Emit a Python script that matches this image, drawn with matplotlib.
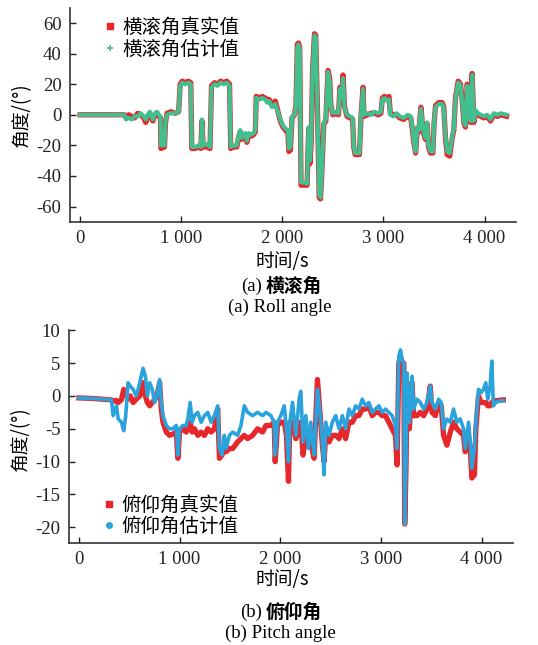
import matplotlib
matplotlib.use("Agg")
import matplotlib.pyplot as plt
from matplotlib.lines import Line2D

plt.rcParams['font.family'] = ['Liberation Serif', 'Noto Sans CJK SC']
plt.rcParams['axes.unicode_minus'] = False

# ---- roll angle (a) ----
roll_t = [0, 440, 455, 480, 510, 540, 570, 600, 630, 650, 670, 690, 705, 720, 740, 760, 780, 795,
          800, 835, 845, 860, 900, 940, 975, 990, 1010, 1040, 1070, 1095, 1105, 1140, 1170, 1195,
          1205, 1218, 1250, 1285, 1300, 1330, 1360, 1390, 1420, 1450, 1478, 1490, 1520, 1550,
          1567, 1584, 1600, 1633, 1650, 1666, 1690, 1716, 1733, 1742, 1775, 1800, 1830, 1850,
          1870, 1898, 1930, 1950, 1980, 2006, 2030, 2055, 2065, 2080, 2096, 2120, 2135, 2148,
          2160, 2172, 2185, 2245, 2255, 2262, 2272, 2285, 2300, 2318, 2330, 2345, 2365, 2378,
          2395, 2410, 2430, 2452, 2468, 2480, 2500, 2530, 2555, 2570, 2588, 2600, 2615, 2640,
          2670, 2695, 2706, 2720, 2745, 2762, 2778, 2798, 2808, 2840, 2880, 2910, 2950, 2975,
          2990, 3010, 3040, 3055, 3068, 3100, 3130, 3160, 3200, 3240, 3270, 3285, 3300, 3318,
          3335, 3350, 3370, 3392, 3415, 3432, 3445, 3465, 3488, 3500, 3515, 3547, 3580, 3597,
          3613, 3630, 3655, 3680, 3696, 3712, 3739, 3762, 3778, 3795, 3811, 3828, 3844, 3861,
          3877, 3894, 3910, 3935, 3960, 3993, 4026, 4059, 4092, 4130, 4158, 4217]
roll_est = [0, 0, -3, -2, -3, -1, -1, 1, -1, -3, 0, 2, -1, -3, 1, 2, 0, -1,
            -20, -20, -4, 0, 1, 1, 2, 19, 21, 20, 21, 20, -21, -21, -20, -21,
            -3, -20, -19, -21, 18, 20, 19, 21, 20, 21, 19, -21, -20, -20,
            -14, -10, -15, -12, -17, -12, -13, -12, -10, 11, 10, 11, 10, 8,
            9, 5, 7, 3, -3, -7, -9, -10, -22, -21, -1, 0, 5, 44,
            46, 43, -44, -45, -20, -8, -30, -18, 30, 52, 51, 10, -52, -54,
            -30, -5, -3, 28, 22, 5, 1, 2, 1, 17, 11, 24, 4, 0,
            -1, -2, -20, -25, -25, -25, 0, 17, 0, 1, 0, 2, 1, 2,
            10, 11, 9, 10, 0, -1, 1, -1, -2, 0, -1, -8, -17, -24,
            -8, -10, 4, -10, -15, -5, -20, -24, -24, -5, 5, 7, 7, 4,
            -14, -24, -25, -14, -9, 10, 21, 19, 9, -4, -7, 19, 10, -4,
            26, -4, 3, 1, 0, -1, 0, -3, 1, 0, 1, 0]
roll_true = [0, 0, -2, 0, -1, -2, 1, 0, -2, -5, -1, 1, -2, -4, 0, 1, -1, -2,
             -22, -21, -5, 1, 2, 1, 2, 20, 22, 21, 22, 21, -22, -22, -21, -22,
             -4, -21, -21, -22, 19, 21, 20, 22, 21, 22, 20, -22, -21, -21,
             -15, -11, -16, -13, -18, -13, -14, -13, -11, 12, 11, 12, 11, 10,
             10, 6, 9, 4, -4, -8, -10, -12, -24, -23, -2, 0, 6, 46,
             47, 44, -46, -46, -21, -9, -32, -19, 31, 53, 52, 11, -54, -55,
             -31, -6, -4, 29, 24, 6, 0, 1, 0, 18, 12, 26, 5, -1,
             -2, -3, -21, -26, -26, -26, -1, 18, -1, 0, 1, 1, 0, 1,
             11, 12, 11, 12, 1, 0, 0, -2, -3, -1, -2, -9, -18, -25,
             -9, -11, 5, -11, -16, -6, -21, -25, -25, -6, 6, 8, 8, 5,
             -15, -26, -27, -15, -10, 11, 22, 20, 10, -5, -8, 20, 11, -5,
             27, -5, 2, 0, -1, -2, -1, -4, 0, -1, 0, -1]

# ---- pitch angle (b) ----
pitch_t = [0, 150, 323, 340, 373, 390, 422, 445, 465, 488, 511, 538, 570, 604, 637, 660, 680,
           703, 729, 752, 775, 802, 818, 835, 868, 900, 934, 967, 983, 1000, 1033, 1066, 1082,
           1105, 1125, 1148, 1181, 1214, 1247, 1280, 1313, 1346, 1379, 1396, 1422, 1445, 1462,
           1495, 1528, 1577, 1610, 1643, 1676, 1726, 1775, 1825, 1858, 1907, 1940, 1950, 1973,
           2006, 2040, 2062, 2082, 2096, 2122, 2155, 2188, 2204, 2227, 2254, 2280, 2303, 2336,
           2370, 2392, 2419, 2435, 2452, 2485, 2518, 2551, 2584, 2617, 2650, 2683, 2716, 2749,
           2782, 2815, 2848, 2881, 2914, 2947, 2980, 3013, 3046, 3079, 3112, 3145, 3161, 3178,
           3195, 3211, 3228, 3237, 3250, 3260, 3283, 3310, 3326, 3359, 3392, 3425, 3458, 3491,
           3508, 3541, 3574, 3600, 3623, 3656, 3690, 3722, 3755, 3788, 3821, 3838, 3871, 3888,
           3904, 3930, 3944, 3970, 3996, 4020, 4042, 4062, 4085, 4102, 4118, 4141, 4168, 4200,
           4217]
pitch_est = [-0.3, -0.4, -0.6, -3, -1.5, -3.5, -4, -5.3, -3, 2, 1.5, 1, 0, 2, 4.2, 3, 0,
             2, 1, -1, 0, 2.5, -1, -3, -4.5, -5, -5, -4.5, -9, -5, -4.5, -4.5, -3.5,
             -1, -4, -3, -2.5, -4, -3, -2.5, -4, -3, -1.5, -8, -9, -6, -8,
             -6, -5.5, -6, -4.5, -1.5, -2.5, -3, -2.5, -3, -2.5, -3, -4, -9, -4,
             -3, -1.5, -5, -10, -4, -1, -6, -0.5, 0.7, -7, -3, -8, -4, -9,
             1, -2, -7, -12, -4, -6, -4, -3, -5, -3, -5, -2, -3, -1.5,
             -2, -0.5, -1.5, -1, -2.5, -2, -1.5, -2.5, -2, -2.5, -3, -4.5, -8, 6,
             7, 5.5, 5, -19.5, -10, 3.5, -4, 3, -2, -0.5, -1, -2, -1, 1.5,
             -1, -2, -0.5, -1, -5, -3.5, -4, -2, -4, -3.5, -5, -8, -4, -7,
             -11, -8, -4, 1, 0.5, 1, 2, -0.5, 1.5, 5.3, -1.5, -1, -0.8, -0.7,
             -0.7]
pitch_true = [-0.3, -0.4, -0.6, -0.8, -0.7, -1, -0.6, 1, 0.5, -0.5, 0, -1, -0.5, 0, 2, 0, -1,
              -1.5, -1, -0.5, 0, 2, -2, -4, -5.5, -6, -5.8, -5.5, -9.5, -5.5, -5, -5.5, -5,
              -4, -5.5, -5, -6, -5.5, -6, -5, -5.5, -5, -2, -9.5, -9, -8, -8.5,
              -8, -8, -7, -6.5, -6, -6.5, -6, -5, -5.5, -4.5, -4.5, -4, -10, -4.5,
              -4, -4, -6, -13, -4, -4, -6.5, -5, -4, -9, -6, -7, -7, -9.5,
              2.5, -2, -7.5, -10, -6, -7, -6, -6, -6.5, -5, -6.5, -4, -4, -3,
              -3, -2, -2, -1.5, -3, -2.5, -2.5, -3, -3, -4, -5, -6, -10.5, 5,
              6, 5, 5, -19.5, -11, 2, -5, 2, -3, -3, -2.5, -3, -2, 1.5,
              -2.5, -3, -1, -1.5, -6, -7.5, -5.5, -4, -5, -5.5, -6, -8.5, -6, -8,
              -12.5, -12, -5, 0, -1, -1, -1, -1.5, -1.5, -1, -0.8, -0.7, -0.7, -0.6,
              -0.6]

x_ticks = [0, 1000, 2000, 3000, 4000]
x_ticklabels = ['0', '1 000', '2 000', '3 000', '4 000']
roll_yticks = [-60, -40, -20, 0, 20, 40, 60]
pitch_yticks = [-20, -15, -10, -5, 0, 5, 10]

RED = '#e8272b'
GREEN = '#42bf8e'
BLUE = '#2aa3dc'
CJK = ['Noto Sans CJK SC', 'Liberation Serif']


def style_axes(ax, yticks):
    for s in ['top', 'right']:
        ax.spines[s].set_visible(False)
    for s in ['left', 'bottom']:
        ax.spines[s].set_color('#333333')
        ax.spines[s].set_linewidth(1.2)
    ax.set_xticks(x_ticks)
    ax.set_xticklabels(x_ticklabels)
    ax.set_yticks(yticks)
    ax.set_yticklabels([str(v) for v in yticks])
    ax.tick_params(direction='in', length=4.5, width=1, colors='#222222',
                   labelsize=13.5, pad=6)
    ax.set_xlim(-100, 4310)


fig = plt.figure(figsize=(5.38, 6.45), dpi=100)

# top panel
ax1 = fig.add_axes([0.130, 0.656, 0.829, 0.332])
ax1.plot(roll_t, roll_true, color=RED, lw=3.8)
ax1.plot(roll_t, roll_est, color=GREEN, lw=3.0)
ax1.set_ylim(-70, 70)
style_axes(ax1, roll_yticks)
h1 = [Line2D([], [], ls='', marker='s', ms=4.5, color=RED),
      Line2D([], [], ls='', marker='+', ms=4, mew=1.2, color=GREEN)]
ax1.legend(h1, ['横滚角真实值', '横滚角估计值'], loc='upper left',
           bbox_to_anchor=(0.038, 1.04), frameon=False, handlelength=0.6,
           handletextpad=0.35, labelspacing=0.05,
           prop={'family': CJK, 'size': 14, 'weight': 'medium'})
ax1.set_ylabel('角度/(°)', family=CJK, fontsize=13.5)
ax1.yaxis.set_label_coords(-0.085, 0.5)

# bottom panel
ax2 = fig.add_axes([0.128, 0.158, 0.825, 0.330])
ax2.plot(pitch_t, pitch_true, color=RED, lw=3.8)
ax2.plot(pitch_t, pitch_est, color=BLUE, lw=2.6)
ax2.set_ylim(-22.4, 10)
style_axes(ax2, pitch_yticks)
h2 = [Line2D([], [], ls='', marker='s', ms=4.5, color=RED),
      Line2D([], [], ls='', marker='o', ms=4, color=BLUE)]
ax2.legend(h2, ['俯仰角真实值', '俯仰角估计值'], loc='lower left',
           bbox_to_anchor=(0.037, -0.055), frameon=False, handlelength=0.6,
           handletextpad=0.35, labelspacing=0.05,
           prop={'family': CJK, 'size': 14, 'weight': 'medium'})
ax2.set_ylabel('角度/(°)', family=CJK, fontsize=13.5)
ax2.yaxis.set_label_coords(-0.085, 0.49)

# axis titles and captions
W, H = 538.0, 645.0
def ftext(px, py, s, ha='center', **kw):
    fig.text(px / W, 1 - py / H, s, ha=ha, va='center', **kw)

ftext(282, 262, '时间/s', family=CJK, fontsize=13.5, weight='medium')
ftext(262, 286, '(a)', ha='right', family='Liberation Serif', fontsize=13.5)
ftext(266, 286, '横滚角', ha='left', family=CJK, fontsize=13.5, weight='bold')
ftext(280, 307, '(a) Roll angle', family='Liberation Serif', fontsize=13.5)
ftext(282, 580, '时间/s', family=CJK, fontsize=13.5, weight='medium')
ftext(262, 612, '(b)', ha='right', family='Liberation Serif', fontsize=13.5)
ftext(266, 612, '俯仰角', ha='left', family=CJK, fontsize=13.5, weight='bold')
ftext(280, 633, '(b) Pitch angle', family='Liberation Serif', fontsize=13.5)

fig.savefig('out.png', dpi=100)
